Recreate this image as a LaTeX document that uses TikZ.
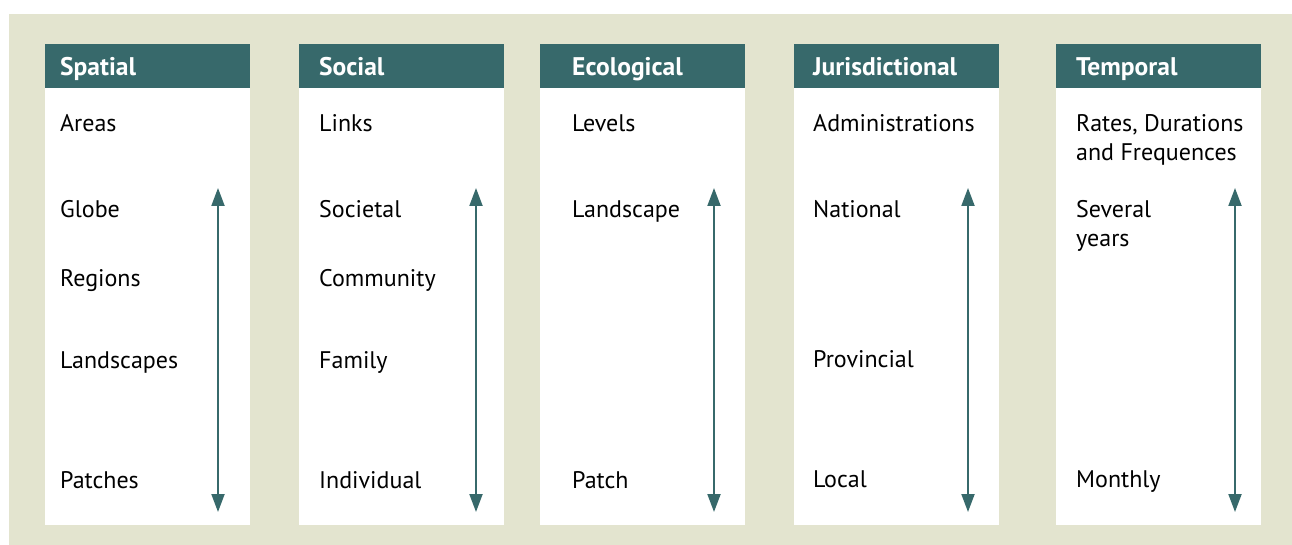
\documentclass[tikz,border=0pt]{standalone}
\usepackage{fontspec}
\setmainfont{PT Sans}
\usetikzlibrary{arrows.meta}
\definecolor{tealhead}{HTML}{37696B}
\definecolor{beigebg}{HTML}{E3E4CF}
\tikzset{
  header/.style={
    rectangle, fill=tealhead, minimum width=205pt, minimum height=44pt,
    inner sep=0pt, anchor=north west
  },
  headtext/.style={
    anchor=base west, inner sep=0pt, text=white, font=\fontsize{25.5}{30}\selectfont\bfseries
  },
  item/.style={
    anchor=base west, inner sep=0pt, align=left, font=\fontsize{24}{29}\selectfont
  },
  scalearrow/.style={
    {Triangle[length=18pt,width=13pt]}-{Triangle[length=18pt,width=13pt]},
    line width=2pt, color=tealhead
  }
}
\begin{document}
\begin{tikzpicture}[x=1pt, y=-1pt]
\useasboundingbox (0,0) rectangle (1292,545);
\fill[beigebg] (9,14) rectangle (1292,545);

% Spalten mit Kopf und Pfeil
\foreach \name/\bx/\tx/\ax/\title in {spatial/45/60/218/Spatial, social/299/319/476/Social,
  ecological/540/572/714/Ecological, juris/794/813/968/Jurisdictional, temporal/1056/1076/1235/Temporal} {
  \fill[white] (\bx,88) rectangle ++(205,437);
  \node[header] (\name) at (\bx,44) {};
  \node[headtext] (\name-title) at (\tx,76) {\title};
  \coordinate (\name-top) at (\ax,188);
  \coordinate (\name-bot) at (\ax,512);
  \draw[scalearrow] (\name-top) -- (\name-bot);
}

% Spatial
\node[item] (areas) at (60,132) {Areas};
\node[item] (globe) at (60,218) {Globe};
\node[item] (regions) at (60,287) {Regions};
\node[item] (landscapes) at (60,368) {Landscapes};
\node[item] (patches) at (60,488) {Patches};

% Social
\node[item] (links) at (319,132) {Links};
\node[item] (societal) at (319,218) {Societal};
\node[item] (community) at (319,287) {Community};
\node[item] (family) at (319,368) {Family};
\node[item] (individual) at (319,488) {Individual};

% Ecological
\node[item] (levels) at (572,132) {Levels};
\node[item] (landscape) at (572,218) {Landscape};
\node[item] (patch) at (572,488) {Patch};

% Jurisdictional
\node[item] (admin) at (813,132) {Administrations};
\node[item] (national) at (813,218) {National};
\node[item] (provincial) at (813,367) {Provincial};
\node[item] (local) at (813,487) {Local};

% Temporal (Grundlinie = letzte Zeile)
\node[item] (rates) at (1076,161) {Rates, Durations\\and Frequences};
\node[item] (several) at (1076,247) {Several\\years};
\node[item] (monthly) at (1076,487) {Monthly};

\end{tikzpicture}
\end{document}
